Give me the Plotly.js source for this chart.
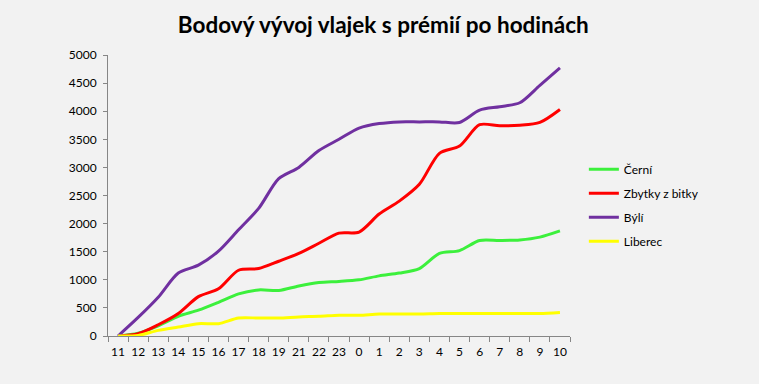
<!DOCTYPE html>
<html>
<head>
<meta charset="utf-8">
<script src="https://cdn.plot.ly/plotly-3.0.1.min.js"></script>
<style>
html,body{margin:0;padding:0;background:#f2f2f2;}
#chart{width:759px;height:384px;}
</style>
</head>
<body>
<div id="chart"></div>
<script>
const hours = ["11","12","13","14","15","16","17","18","19","21","22","23","0","1","2","3","4","5","6","7","8","9","10"];
const cerni = [0,50,180,350,460,600,750,820,810,890,950,970,1000,1070,1120,1200,1470,1520,1700,1700,1710,1760,1870];
const zbytky = [0,40,200,400,700,840,1170,1200,1330,1470,1650,1830,1850,2170,2400,2700,3250,3380,3760,3740,3750,3800,4030];
const byli = [0,330,690,1120,1260,1510,1890,2270,2800,3000,3300,3500,3700,3780,3810,3810,3810,3800,4020,4080,4150,4460,4770];
const liberec = [0,10,100,160,220,220,320,320,320,340,350,370,370,390,390,390,400,400,400,400,400,400,420];

const seriesNames = ["Černí","Zbytky z bitky","Býlí","Liberec"];
const seriesData = [cerni, zbytky, byli, liberec];
const seriesColors = ["#3cf03c","#ff0000","#7030a0","#ffff00"];

const traces = seriesData.map((vals, i) => ({
  x: hours,
  y: vals,
  type: "scatter",
  mode: "lines",
  name: seriesNames[i],
  legendgroup: "g" + i,
  line: {color: seriesColors[i], width: 3, shape: "spline", smoothing: 0.8},
  hoverinfo: "skip"
}));

const layout = {
  width: 759,
  height: 384,
  paper_bgcolor: "#f2f2f2",
  plot_bgcolor: "#f2f2f2",
  margin: {l: 108, r: 189, t: 55, b: 48},
  title: {
    text: "<b>Bodový vývoj vlajek s prémií po hodinách</b>",
    font: {family: "Lato, 'Open Sans', sans-serif", size: 22.5, color: "#000000"},
    x: 0.505, xanchor: "center",
    y: 0.935, yanchor: "middle"
  },
  xaxis: {
    type: "category",
    categoryorder: "array",
    categoryarray: hours,
    range: [-0.5, hours.length - 0.5],
    tickson: "boundaries",
    tickangle: 0,
    ticks: "outside",
    ticklen: 5,
    tickcolor: "#868686",
    showline: true,
    linecolor: "#868686",
    linewidth: 1,
    showgrid: false,
    zeroline: false,
    ticklabelstandoff: 5,
    tickfont: {family: "Lato, 'Open Sans', sans-serif", size: 12, color: "#000000"},
    fixedrange: true
  },
  yaxis: {
    range: [0, 5000],
    dtick: 500,
    tick0: 0,
    ticks: "outside",
    ticklen: 4,
    tickcolor: "#868686",
    showline: true,
    linecolor: "#868686",
    linewidth: 1,
    showgrid: false,
    zeroline: false,
    ticklabelstandoff: 4,
    tickfont: {family: "Lato, 'Open Sans', sans-serif", size: 12, color: "#000000"},
    fixedrange: true
  },
  showlegend: true,
  legend: {
    x: 1.03, xanchor: "left",
    y: 0.645, yanchor: "top",
    bgcolor: "rgba(0,0,0,0)",
    font: {family: "Lato, 'Open Sans', sans-serif", size: 12, color: "#000000"},
    tracegroupgap: 5,
    itemwidth: 30
  }
};

Plotly.newPlot("chart", traces, layout, {staticPlot: true, displayModeBar: false});
</script>
</body>
</html>
